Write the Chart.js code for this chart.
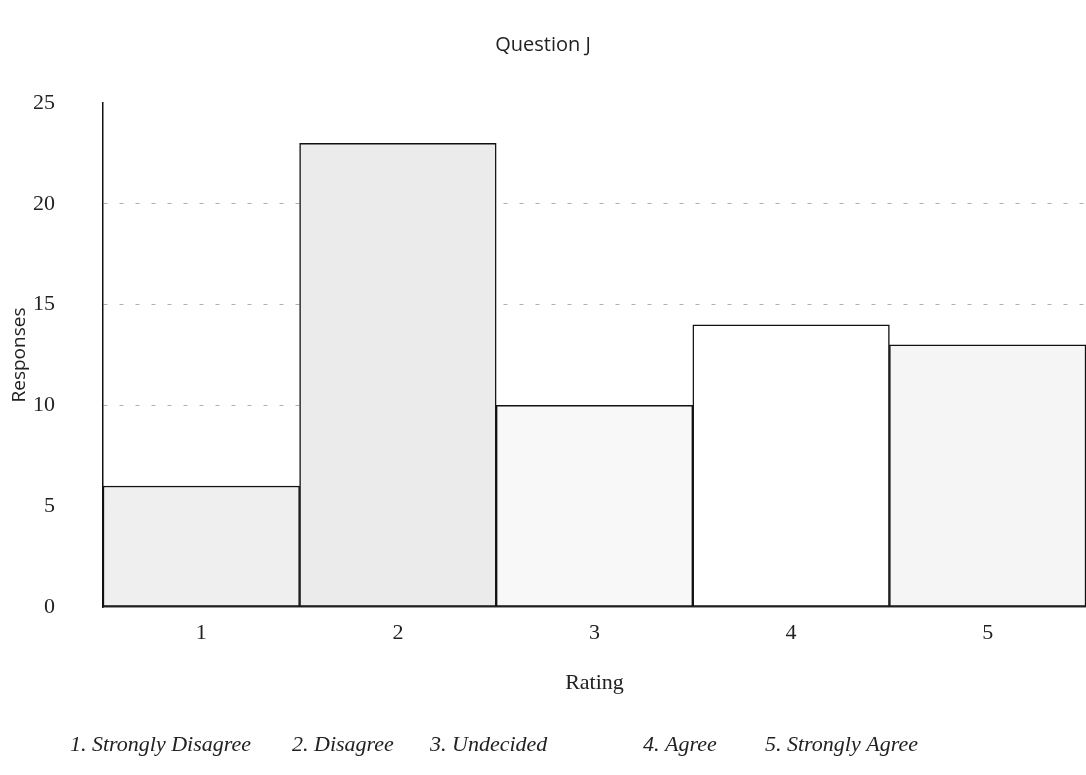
<!DOCTYPE html>
<html>
<head>
<meta charset="utf-8">
<script src="https://cdn.jsdelivr.net/npm/chart.js@4"></script>
<style>
  html, body { margin: 0; padding: 0; background: #fff; }
  #wrap { width: 1086px; height: 775px; position: relative; }
</style>
</head>
<body>
<div id="wrap"><canvas id="grafica" width="1086" height="775"></canvas></div>
<script>
const ratings = ["1", "2", "3", "4", "5"];
const responses = [6, 23, 10, 14, 13];
const yTicks = [0, 5, 10, 15, 20, 25];
const ratingNames = ["1. Strongly Disagree", "2. Disagree", "3. Undecided", "4. Agree", "5. Strongly Agree"];

const serif = "'Liberation Serif', 'Times New Roman', serif";

// footer line with the meaning of each rating
const footerPlugin = {
  id: "footerNames",
  afterDraw(chart, args, opts) {
    const ctx = chart.ctx;
    ctx.save();
    ctx.font = "italic 22px " + serif;
    ctx.fillStyle = "#222";
    ctx.textBaseline = "middle";
    ctx.textAlign = "left";
    ratingNames.forEach((t, i) => ctx.fillText(t, opts.x[i], opts.y));
    ctx.restore();
  }
};

new Chart(document.getElementById("grafica"), {
  type: "bar",
  data: {
    labels: ratings,
    datasets: [{
      data: responses,
      backgroundColor: ["#efefef", "#ebebeb", "#f8f8f8", "#ffffff", "#f5f5f5"],
      borderColor: "#111",
      borderWidth: 1.5,
      borderSkipped: false,
      categoryPercentage: 1,
      barPercentage: 1
    }]
  },
  options: {
    responsive: false,
    animation: false,
    layout: { padding: { left: 0, right: 0, top: 0, bottom: 65 } },
    plugins: {
      legend: { display: false },
      tooltip: { enabled: false },
      title: {
        display: true,
        text: "Question J",
        color: "#222",
        font: { family: "'Open Sans', sans-serif", size: 20, weight: "normal", lineHeight: 1.2 },
        padding: { top: 33, bottom: 46 }
      },
      footerNames: { x: [70, 292, 430, 643, 765], y: 745 }
    },
    scales: {
      x: {
        grid: { display: false, drawTicks: false },
        border: { display: true, color: "#333", width: 1.5 },
        ticks: { color: "#222", padding: 13, font: { family: serif, size: 22 } },
        title: {
          display: true,
          text: "Rating",
          color: "#222",
          font: { family: serif, size: 22, lineHeight: 1.2 },
          padding: { top: 0, bottom: 14 }
        },
        afterFit(scale) { scale.height = 103; }
      },
      y: {
        min: 0,
        max: 25,
        afterBuildTicks(scale) { scale.ticks = yTicks.map(v => ({ value: v })); },
        grid: {
          drawTicks: false,
          lineWidth: 1,
          color: c => (c.tick && (c.tick.value === 0 || c.tick.value === 25)) ? "rgba(0,0,0,0)" : "#b0b0b0"
        },
        border: { display: true, color: "#111", width: 1.5, dash: [4, 12] },
        ticks: { color: "#222", padding: 48, font: { family: serif, size: 22 } },
        title: {
          display: true,
          text: "Responses",
          color: "#222",
          font: { family: "'Open Sans', sans-serif", size: 19, lineHeight: 1.2 },
          padding: { top: 8, bottom: 0 }
        },
        afterFit(scale) { scale.width = 103; }
      }
    }
  },
  plugins: [footerPlugin]
});
</script>
</body>
</html>
